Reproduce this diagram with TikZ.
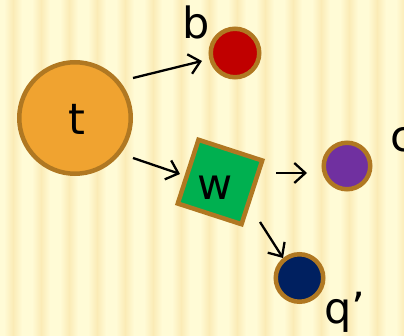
\documentclass[tikz,border=0pt]{standalone}
\usepackage{fontspec}
\setmainfont{DejaVu Sans}
\usetikzlibrary{arrows.meta}
\definecolor{bglight}{RGB}{255,251,214}
\definecolor{bgdark}{RGB}{251,235,182}
\definecolor{rim}{RGB}{176,120,34}
\definecolor{orng}{RGB}{240,163,48}
\definecolor{redd}{RGB}{192,0,0}
\definecolor{purp}{RGB}{112,48,160}
\definecolor{navy}{RGB}{0,32,96}
\definecolor{grn}{RGB}{0,176,80}
\tikzset{
  dot/.style={circle,draw=rim,line width=4.5pt,inner sep=0pt},
  txt/.style={inner sep=0pt,font=\fontsize{43}{50}\selectfont,text=black},
  arr/.style={-{Straight Barb[length=11pt,width=20pt,line width=2.3pt]},line width=2.3pt,black},
}
\begin{document}
\begin{tikzpicture}[x=1pt,y=-1pt]
\useasboundingbox (0,0) rectangle (404,336);
\fill[bglight] (0,0) rectangle (404,336);
\foreach \x in {0,28,...,420}{
  \shade[left color=bglight,right color=bgdark] (\x+4,0) rectangle (\x+13,336);
  \shade[left color=bgdark,right color=bglight] (\x+13,0) rectangle (\x+22,336);
}
\node[dot,fill=orng,minimum size=111.5pt] (t) at (75,118) {};
\node[txt] (tl) at (77,119) {t};
\node[dot,fill=redd,minimum size=48.5pt] (b) at (235,53) {};
\node[txt] (bl) at (196,22) {b};
\node[dot,fill=purp,minimum size=46.5pt] (c) at (347,166) {};
\node[txt,anchor=west] (cl) at (390,140) {c};
\node[dot,fill=navy,minimum size=47.5pt] (q) at (299.5,278) {};
\node[txt] (ql) at (345,312) {q’};
\node[rectangle,draw=rim,fill=grn,line width=4.5pt,minimum size=67pt,inner sep=0pt,rotate=-18] (w) at (220,182) {};
\node[txt] (wl) at (215,188) {w};
\coordinate (tb1) at (133,78);
\coordinate (tb2) at (202,61);
\coordinate (tw1) at (133,158);
\coordinate (tw2) at (180,174);
\coordinate (wc1) at (276,173);
\coordinate (wc2) at (307,173);
\coordinate (wq1) at (260,222);
\coordinate (wq2) at (283,258);
\draw[arr] (tb1) -- (tb2);
\draw[arr] (tw1) -- (tw2);
\draw[arr] (wc1) -- (wc2);
\draw[arr] (wq1) -- (wq2);
\end{tikzpicture}
\end{document}
